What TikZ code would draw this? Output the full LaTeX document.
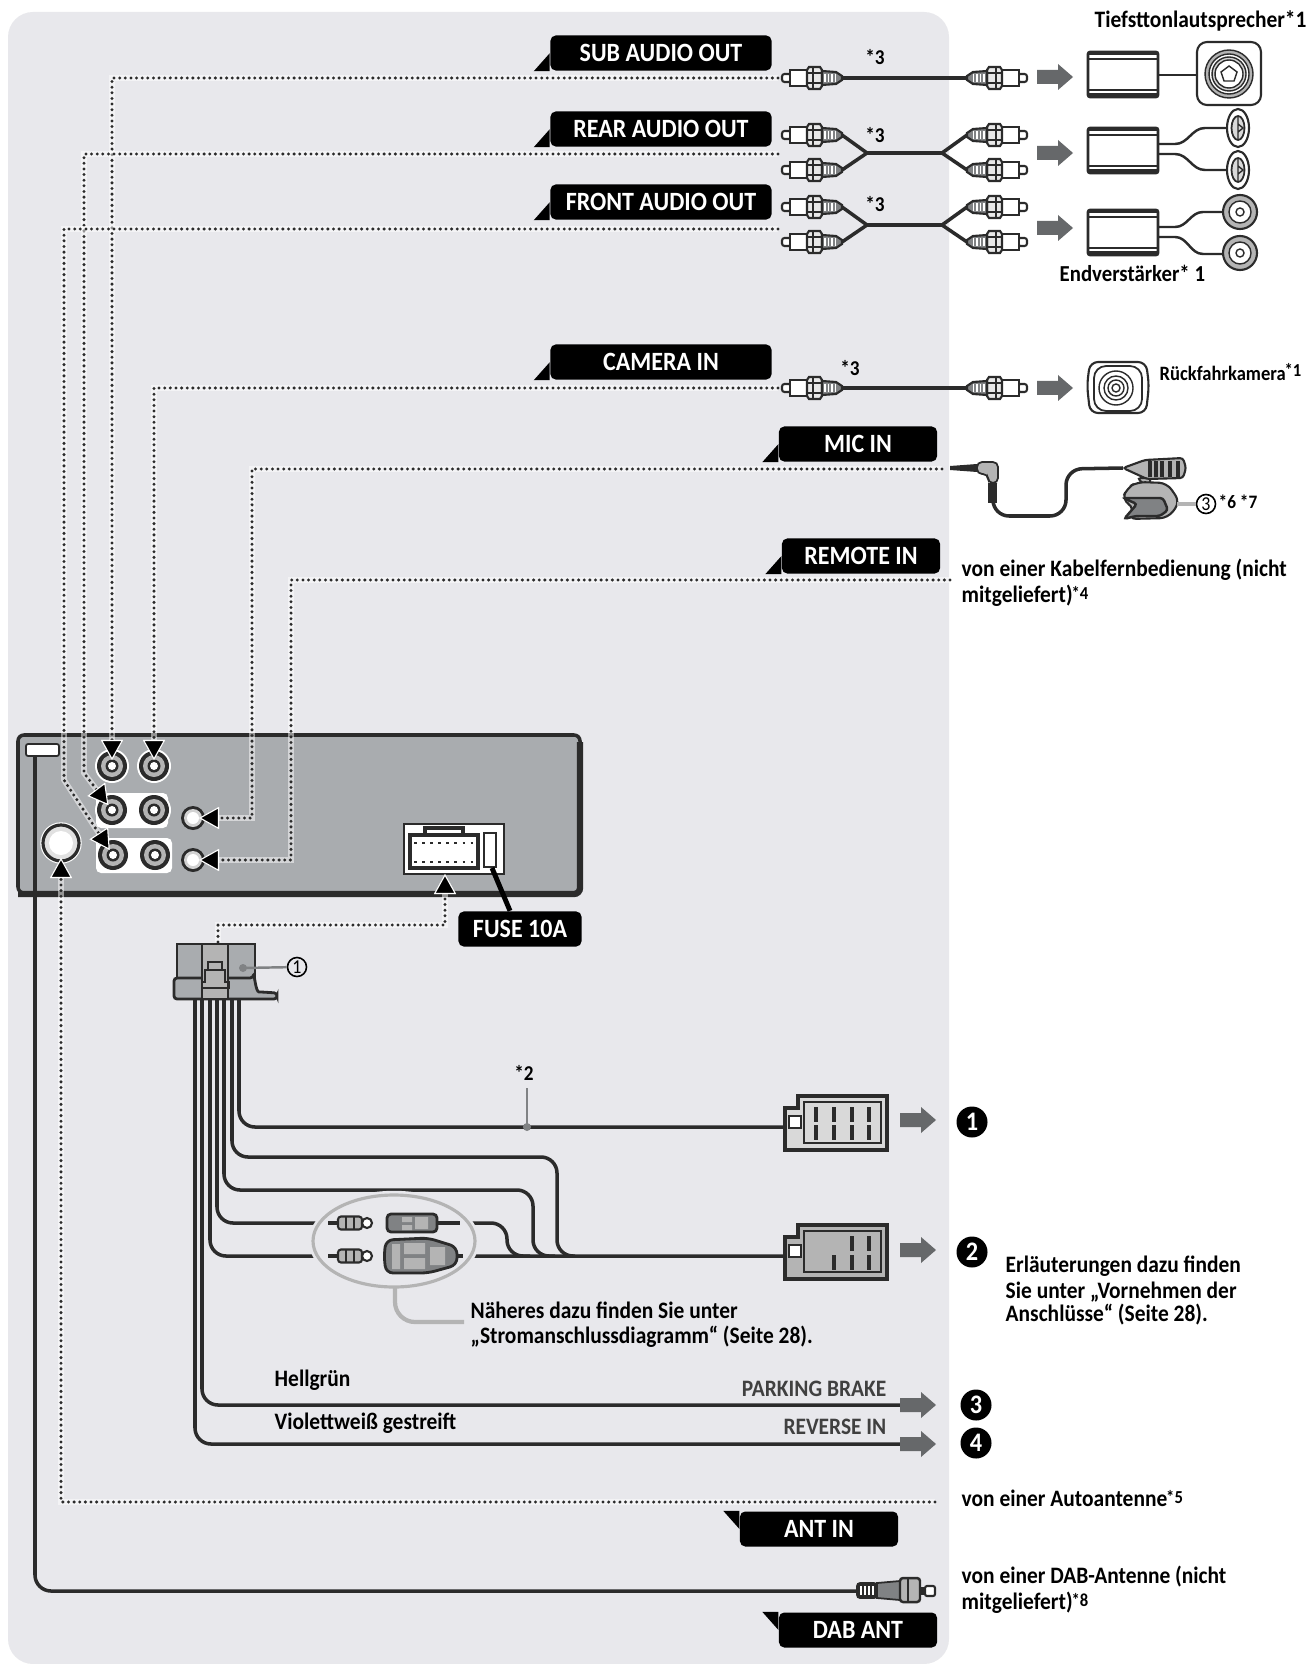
\documentclass[tikz,border=0pt]{standalone}
\usepackage{fontspec}
\setmainfont{Carlito}[FakeStretch=.91]
\usepackage{tikz}
\usetikzlibrary{arrows.meta}
\definecolor{panelgray}{HTML}{E8E8EC}
\definecolor{unitgray}{HTML}{A9ACAF}
\definecolor{linegray}{HTML}{2B2B2B}
\definecolor{softgray}{HTML}{B4B4B4}
\definecolor{darkgray}{HTML}{808284}
\definecolor{arrowgray}{HTML}{66686A}
\newcommand{\starup}[1]{\kern-.3pt\raisebox{.9pt}{\fontsize{5.2}{6}\selectfont*#1}}
\tikzset{
  pics/rca/.style={code={
    \draw[linegray,line width=.6pt,fill=white,rounded corners=.025cm] (-30,-4) rectangle (-21,4);
    \draw[linegray,line width=.6pt,fill=white] (-22,-8) rectangle (-5,8);
    \draw[linegray,line width=.6pt,fill=softgray!30] (-5,-8) -- (-3,-11) -- (8,-11) -- (10,-8) -- (10,8) -- (8,11) -- (-3,11) -- (-5,8) -- cycle;
    \draw[linegray,line width=.35pt] (-5,-5) -- (10,-5) (-5,5) -- (10,5) (1,-11) -- (1,11);
    \draw[linegray,line width=.6pt,fill=darkgray] (10,-7) -- (24,-6) -- (30,-2) -- (30,2) -- (24,6) -- (10,7) -- cycle;
    \foreach \q in {13,16.5,20,23.5} \draw[white,line width=.35pt] (\q,-4) -- (\q,4);
  }},
  pics/fatarrow/.style={code={
    \fill[arrowgray] (-18,-7) -- (3,-7) -- (3,-13) -- (18,0) -- (3,13) -- (3,7) -- (-18,7) -- cycle;
  }},
  pics/jackbig/.style={code={
    \fill[white] (0,0) circle (17);
    \fill[linegray] (0,0) circle (15);
    \fill[softgray] (0,0) circle (11);
    \fill[linegray] (0,0) circle (6.5);
    \fill[white] (0,0) circle (4);
  }},
  pics/jacksmall/.style={code={
    \fill[linegray] (0,0) circle (12);
    \fill[softgray!60] (0,0) circle (9);
    \fill[white] (0,0) circle (6);
  }},
  pics/ampbox/.style={code={
    \draw[linegray,line width=.75pt,fill=white,rounded corners=.02cm] (0,0) rectangle (70,45);
    \fill[linegray] (0,0) rectangle (70,3);
    \draw[linegray,line width=.5pt] (0,7) -- (70,7) (0,38) -- (70,38);
    \fill[linegray] (0,41) rectangle (70,45);
  }},
  pics/spkfront/.style={code={
    \draw[linegray,line width=.6pt,fill=softgray] (0,0) circle (17);
    \draw[linegray,line width=.4pt,fill=white] (0,0) circle (11);
    \draw[linegray,line width=.4pt] (0,0) circle (4);
  }},
  pics/spkside/.style={code={
    \draw[linegray,line width=.6pt,fill=white] (0,0) ellipse (11 and 19);
    \draw[linegray,line width=.5pt,fill=softgray!50] (0,0) ellipse (6.5 and 12);
    \draw[linegray,line width=.4pt] (0,-12) -- (0,12) (0,-4) -- (5,0) -- (0,4);
  }},
  pics/smallplug/.style={code={
    \draw[linegray,line width=.6pt,fill=softgray,rounded corners=.03cm] (338,-6.5) rectangle (362,6.5);
    \draw[linegray,line width=.4pt] (346,-6.5) -- (346,6.5) (354,-6.5) -- (354,6.5);
    \draw[linegray,line width=.6pt,fill=white] (367,0) circle (5);
  }}
}
\begin{document}
\begin{tikzpicture}[x=0.01cm,y=-0.01cm,
% common options for the black tags:
tag/.style = {fill=black, text=white, rounded corners=1.5pt, inner sep=0,
            minimum width=2.21cm, minimum height=.35cm, font=\fontsize{7.5}{8}\selectfont\bfseries},
tagsmall/.style = {tag, minimum width=1.58cm},
% common options for text:
txt/.style = {anchor=west, inner sep=0, align=left, font=\fontsize{6.7}{7.3}\selectfont\bfseries},
note/.style = {inner sep=0, font=\fontsize{6}{6}\selectfont\bfseries},
% common options for lines:
wire/.style = {draw=linegray, line width=1pt, rounded corners=.16cm},
fork/.style = {draw=linegray, line width=1pt},
thin/.style = {draw=linegray, line width=.7pt},
dots/.style = {draw=linegray, line width=.95pt, line cap=round, dash pattern=on 0pt off 1.6pt,
            preaction={draw=white, draw opacity=.5, line width=1.6pt, dash pattern={}}},
dotarrow/.style = {dots, shorten >=.06cm, -{Triangle[length=.2cm,width=.22cm,color=white,fill=black,line width=.3pt]}},
leader/.style = {draw=softgray, line width=1.2pt, rounded corners=.2cm},
num/.style = {circle, draw=black, line width=.45pt, inner sep=0, minimum size=.19cm, font=\fontsize{5.6}{6}\selectfont},
bignum/.style = {circle, fill=black, text=white, inner sep=0, minimum size=.31cm, font=\fontsize{7.6}{8}\selectfont\bfseries}]
\useasboundingbox (0,0) rectangle (1309,1664);
\fill[white] (0,0) rectangle (1309,1664);
\fill[panelgray,rounded corners=.25cm] (8,12) rectangle (949,1664);
% unit
\draw[linegray,line width=1pt,fill=unitgray,rounded corners=.06cm] (18,735) rectangle (580,893);
\draw[linegray,line width=1.8pt,rounded corners=.06cm] (18,894) -- (580,894) -- (580,742);
\draw[linegray,line width=.5pt,fill=white,rounded corners=.02cm] (26,744) rectangle (59,756);
\fill[white,rounded corners=.05cm] (96,793) rectangle (168,828);
\fill[white,rounded corners=.05cm] (96,838) rectangle (172,873);
\foreach \n/\x/\y in {ja/112/766, jb/154/766, jc/112/810, jd/154/810, je/113/855, jf/155/855}{
  \coordinate (\n) at (\x,\y);
  \pic at (\n) {jackbig};
}
\foreach \n/\x/\y in {jg/193/818, jh/193/860}{
  \coordinate (\n) at (\x,\y);
  \pic at (\n) {jacksmall};
}
\coordinate (antjack) at (61,843);
\draw[white,line width=.4pt] (antjack) circle (20);
\draw[linegray,line width=.9pt,fill=softgray!40] (antjack) circle (18);
\fill[white] (antjack) circle (12);
% unit socket with fuse
\draw[linegray,line width=.4pt,fill=white] (404,824) rectangle (504,874);
\draw[linegray,line width=.9pt] (425,835) -- (425,828) -- (463,828) -- (463,835);
\draw[linegray,line width=1pt] (410,835) rectangle (478,868);
\draw[linegray,line width=.8pt,dash pattern=on .8pt off 1.5pt] (414,843) -- (474,843) (414,862) -- (474,862);
\draw[linegray,line width=.5pt,fill=white] (484,833) rectangle (496,867);
\coordinate (socket) at (445,874);
\coordinate (fusepin) at (492,868);
% tags
\node[tag] (subout) at (661,53) {SUB AUDIO OUT};
\node[tag] (rearout) at (661,129) {REAR AUDIO OUT};
\node[tag] (frontout) at (661,202) {FRONT AUDIO OUT};
\node[tag] (camin) at (661,362) {CAMERA IN};
\node[tagsmall] (micin) at (858,444) {MIC IN};
\node[tagsmall] (remin) at (861,556) {REMOTE IN};
\node[tagsmall] (antin) at (819,1529) {ANT IN};
\node[tagsmall] (dabant) at (858,1630) {DAB ANT};
\node[tag,minimum width=1.23cm] (fuse) at (520,929) {FUSE 10A};
\foreach \n in {subout,rearout,frontout,camin,micin,remin}
  \fill[black] (\n.south west) -- ++(-16,0) -- ++(16,-18) -- cycle;
\foreach \n in {antin,dabant}
  \fill[black] (\n.north west) -- ++(-16,0) -- ++(16,18) -- cycle;
\draw[black,line width=1.4pt] (fusepin) -- ([xshift=-.1cm]fuse.north);
% ends of the dotted lines
\coordinate (subdot) at (778,78);
\coordinate (reardot) at (778,154);
\coordinate (frontdot) at (778,229);
\coordinate (camdot) at (778,388);
\coordinate (micdot) at (942,469);
\coordinate (remdot) at (950,580);
\coordinate (antdot) at (935,1502);
\coordinate (harnessdot) at (218,942);
\draw[dotarrow] (subdot) -| (ja);
\draw[dotarrow] (camdot) -| (jb);
\draw[dotarrow] (reardot) -- (84,154) -- (84,773) -- (jc);
\draw[dotarrow] (frontdot) -- (64,229) -- (64,780) -- (je);
\draw[dotarrow] (micdot) -- (252,469) -- (252,818) -- (jg);
\draw[dotarrow] (remdot) -- (291,580) -- (291,860) -- (jh);
\draw[dotarrow,shorten >=.15cm] (antdot) -- (61,1502) -- (antjack);
\draw[dotarrow,shorten >=0pt] (harnessdot) -- (218,925) -- (445,925) -- (socket);
% audio lines
\foreach \n/\y in {suba/78, reara/135, rearb/170, fronta/207, frontb/242, cama/388}{
  \pic at (812,\y) {rca};
  \pic at (997,\y) [xscale=-1] {rca};
  \coordinate (\n l) at (842,\y);
  \coordinate (\n r) at (967,\y);
}
\draw[fork] (subal) -- (subar);
\draw[fork] (camal) -- (camar);
\draw[fork] (rearal) -- (867,153) -- (rearbl) (867,153) -- (942,153);
\draw[fork] (rearar) -- (942,153) -- (rearbr);
\draw[fork] (frontal) -- (867,225) -- (frontbl) (867,225) -- (942,225);
\draw[fork] (frontar) -- (942,225) -- (frontbr);
\node[note] (star3a) at (875,57) {*3};
\node[note] (star3b) at (875,135) {*3};
\node[note] (star3c) at (875,204) {*3};
\node[note] (star3d) at (850,368) {*3};
\foreach \y in {77,153,228,388} \pic at (1055,\y) {fatarrow};
% amplifiers and speakers
\pic at (1088,52) {ampbox};
\pic at (1088,128) {ampbox};
\pic at (1088,210) {ampbox};
\draw[linegray,line width=.6pt,fill=white,rounded corners=.1cm] (1197,42) rectangle (1261,105);
\foreach \r/\c in {24/softgray,20/white,17/softgray!60,14/white} \draw[linegray,line width=.4pt,fill=\c] (1229,74) circle (\r);
\draw[linegray,line width=.4pt] (1229,66) -- (1237,72) -- (1234,81) -- (1224,81) -- (1221,72) -- cycle;
\coordinate (subamp) at (1158,75);
\coordinate (subspk) at (1197,75);
\draw[thin] (subamp) -- (subspk);
\pic at (1238,128) {spkside};
\pic at (1238,170) {spkside};
\pic at (1240,212) {spkfront};
\pic at (1240,253) {spkfront};
\draw[thin] (1158,144) -- (1175,144) to[out=0,in=180] (1205,128) -- (1227,128);
\draw[thin] (1158,154) -- (1175,154) to[out=0,in=180] (1205,170) -- (1227,170);
\draw[thin] (1158,227) -- (1175,227) to[out=0,in=180] (1203,212) -- (1223,212);
\draw[thin] (1158,237) -- (1175,237) to[out=0,in=180] (1203,254) -- (1223,254);
\node[txt] (subwoofer) at (1094,21) {Tiefsttonlautsprecher*1};
\node[txt,font=\fontsize{6.5}{7}\selectfont\bfseries] (amplifier) at (1059,273) {Endverstärker* 1};
\node[txt,font=\fontsize{5.8}{7}\selectfont\bfseries] (cameratext) at (1159,372) {Rückfahrkamera\starup{1}};
% camera
\draw[linegray,line width=.6pt,fill=white,rounded corners=.08cm] (1090,362) -- (1146,362) -- (1149,385) -- (1146,413) -- (1090,413) -- (1087,385) -- cycle;
\draw[linegray,line width=.5pt,fill=white,rounded corners=.12cm] (1094,366) rectangle (1142,411);
\foreach \r in {17,12,8,4} \draw[linegray,line width=.4pt] (1116,388) circle (\r);
% microphone
\fill[linegray] (950,466) -- (977,464) -- (977,472) -- (950,470) -- cycle;
\draw[linegray,line width=.5pt,fill=softgray,rounded corners=.05cm] (977,462) -- (998,462) -- (998,483) -- (988,483) -- (988,474) -- (977,474) -- cycle;
\fill[linegray] (988,483) rectangle (997,503);
\coordinate (micplug) at (993,503);
\coordinate (mictip) at (1123,468);
\draw[wire] (micplug) -- (993,516) -- (1066,516) -- (1066,469) -- (mictip);
\draw[linegray,line width=.6pt,fill=softgray,rounded corners=.04cm] (1137,478) -- (1147,487) -- (1152,478) -- cycle;
\draw[linegray,line width=.6pt,fill=softgray,rounded corners=.08cm] (1127,488) -- (1137,482) -- (1167,483) -- (1180,502) -- (1168,518) -- (1128,519) -- (1135,508) -- (1122,500) -- cycle;
\draw[linegray,line width=.7pt,fill=darkgray,rounded corners=.03cm] (1123,498) -- (1163,498) -- (1168,510) -- (1160,516) -- (1136,516) -- (1124,519) -- (1137,504) -- cycle;
\draw[linegray,line width=.6pt,fill=softgray,rounded corners=.03cm] (1123,468) -- (1145,460) -- (1183,458) -- (1186,468) -- (1183,478) -- (1147,479) -- cycle;
\foreach \x in {1150,1156,1162,1170,1178} \draw[linegray,line width=.9pt] (\x,461) -- (\x,477);
\node[num] (micnum) at (1206,504) {3};
\draw[softgray,line width=.9pt] (1177,504) -- (micnum);
\node[note,anchor=west,font=\fontsize{5.4}{6}\selectfont\bfseries] (micnote) at (1218,502) {*6 *7};
\node[txt] (remtexta) at (961,570) {von einer Kabelfernbedienung (nicht};
\node[txt] (remtextb) at (961,596) {mitgeliefert)\starup{4}};
% harness plug
\draw[linegray,line width=.8pt,fill=unitgray] (177,944) rectangle (255,978);
\draw[linegray,line width=.8pt,fill=unitgray,rounded corners=.03cm] (174,978) -- (253,978) to[out=80,in=180] (262,992) -- (277,993) -- (277,999) -- (174,999) -- cycle;
\fill[softgray] (202,945) rectangle (228,998);
\draw[linegray,line width=.6pt] (202,944) -- (202,999) (228,944) -- (228,999);
\draw[linegray,line width=.6pt] (208,962) rectangle (222,970);
\draw[linegray,line width=.6pt] (205,970) -- (225,970) -- (225,982) -- (229,982) -- (229,988) -- (202,988) -- (202,982) -- (205,982) -- cycle;
\coordinate (plugdot) at (243,968);
\fill[darkgray] (plugdot) circle (4);
\node[num] (plugnum) at (297,967) {1};
\draw[darkgray,line width=.7pt] (plugdot) -- (plugnum);
% wires
\coordinate (conna) at (785,1127);
\coordinate (connb) at (785,1256);
\draw[wire] (239,1000) -- (239,1127) -- (conna);
\draw[wire] (232,1000) -- (232,1157) -- (557,1157) -- (557,1256) -- (575,1256);
\draw[wire] (224,1000) -- (224,1190) -- (533,1190) -- (533,1256) -- (555,1256);
\draw[wire] (217,1000) -- (217,1223) -- (507,1223) -- (507,1256) -- (530,1256);
\draw[wire] (210,1000) -- (210,1256) -- (connb);
\coordinate (parkend) at (900,1405);
\coordinate (revend) at (900,1444);
\draw[wire] (202,1000) -- (202,1405) -- (parkend);
\draw[wire] (195,1000) -- (195,1444) -- (revend);
\coordinate (dabend) at (860,1591);
\draw[wire] (35,756) -- (35,1591) -- (dabend);
% connectors
\foreach \n/\y/\f in {a/1096/softgray!50, b/1225/softgray}{
  \draw[linegray,line width=1.1pt,fill=\f] (798,\y) -- (887,\y) -- (887,\y+54) -- (785,\y+54) -- (785,\y+12) -- (798,\y+12) -- cycle;
  \draw[linegray,line width=.5pt] (804,\y+6) rectangle (881,\y+47);
  \draw[linegray,line width=.5pt,fill=white] (789,\y+20) rectangle (801,\y+32);
}
\foreach \x in {816,834,852,869} \draw[linegray,line width=1.3pt] (\x,1107) -- (\x,1122) (\x,1125) -- (\x,1140);
\foreach \x in {852,869} \draw[linegray,line width=1.3pt] (\x,1236) -- (\x,1251);
\foreach \x in {834,852,869} \draw[linegray,line width=1.3pt] (\x,1255) -- (\x,1270);
\foreach \y in {1120,1250,1405,1444} \pic at (918,\y) {fatarrow};
\node[bignum] (numa) at (972,1122) {1};
\node[bignum] (numb) at (972,1252) {2};
\node[bignum] (numc) at (976,1405) {3};
\node[bignum] (numd) at (976,1443) {4};
% ellipse with small plugs
\draw[panelgray,line width=2.4pt,fill=panelgray] (394,1241) ellipse (81 and 46);
\draw[softgray,line width=.9pt] (394,1241) ellipse (81 and 46);
\draw[linegray,line width=1pt] (328,1223) -- (338,1223) (328,1256) -- (338,1256) (437,1223) -- (460,1223) (457,1256) -- (463,1256);
\pic at (0,1223) {smallplug};
\pic at (0,1256) {smallplug};
\draw[linegray,line width=.8pt,fill=darkgray,rounded corners=.04cm] (387,1214) rectangle (437,1232);
\fill[softgray] (402,1217) rectangle (412,1222) (402,1225) rectangle (412,1230) (415,1217) rectangle (428,1229);
\draw[linegray,line width=.8pt,fill=darkgray,rounded corners=.07cm] (386,1240) -- (428,1238) -- (457,1247) -- (457,1265) -- (428,1273) -- (386,1273) -- (384,1256) -- cycle;
\fill[softgray] (404,1243) rectangle (425,1254) (404,1258) rectangle (425,1269) (392,1244) rectangle (400,1269) (430,1247) rectangle (445,1265);
\coordinate (ellipsefoot) at (395,1287);
\node[txt] (moretexta) at (470,1310) {Näheres dazu finden Sie unter};
\node[txt] (moretextb) at (470,1337) {„Stromanschlussdiagramm“ (Seite 28).};
\draw[leader] (ellipsefoot) -- (395,1322) -- (464,1322);
\node[note] (star2) at (524,1073) {*2};
\coordinate (wiredot) at (527,1127);
\draw[darkgray,line width=.6pt] (527,1088) -- (wiredot);
\fill[darkgray] (wiredot) circle (4);
\node[txt] (green) at (274,1380) {Hellgrün};
\node[txt] (violet) at (274,1423) {Violettweiß gestreift};
\node[txt,anchor=east,text=black!75] (park) at (887,1389) {PARKING BRAKE};
\node[txt,anchor=east,text=black!75] (rev) at (887,1427) {REVERSE IN};
\node[txt] (morea) at (1005,1266) {Erläuterungen dazu finden};
\node[txt] (moreb) at (1005,1292) {Sie unter „Vornehmen der};
\node[txt] (morec) at (1005,1315) {Anschlüsse“ (Seite 28).};
\node[txt] (anttext) at (961,1498) {von einer Autoantenne\starup{5}};
\node[txt] (dabtexta) at (961,1577) {von einer DAB-Antenne (nicht};
\node[txt] (dabtextb) at (961,1603) {mitgeliefert)\starup{8}};
% DAB plug
\draw[linegray,line width=.5pt,fill=linegray,rounded corners=.03cm] (857,1583) rectangle (877,1598);
\foreach \x in {861,865,869,873} \draw[white,line width=.35pt] (\x,1586) -- (\x,1595);
\draw[linegray,line width=.5pt,fill=darkgray] (877,1583) -- (900,1581) -- (900,1600) -- (877,1598) -- cycle;
\draw[linegray,line width=.7pt,fill=softgray,rounded corners=.03cm] (900,1578) rectangle (920,1602);
\draw[linegray,line width=.5pt] (908,1578) -- (908,1602);
\fill[linegray] (920,1587) rectangle (925,1595);
\draw[linegray,line width=.6pt,fill=white,rounded corners=.02cm] (925,1586) rectangle (935,1596);
\end{tikzpicture}
\end{document}
